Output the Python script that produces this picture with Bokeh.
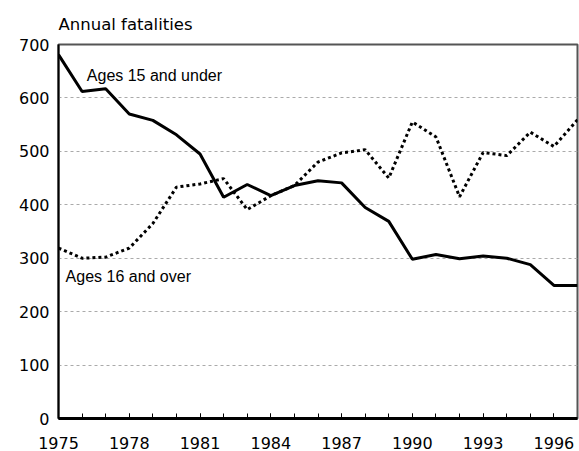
from bokeh.plotting import figure
from bokeh.models import FixedTicker, Range1d, Label
from bokeh.embed import file_html
from bokeh.resources import INLINE

# ---- data ----
years = list(range(1975, 1998))
under15 = [681, 612, 617, 570, 558, 531, 495, 414, 438, 417, 436, 445, 441,
           395, 369, 298, 307, 299, 304, 300, 288, 249, 249]
over16 = [319, 300, 302, 319, 365, 433, 439, 449, 391, 417, 436, 480, 497,
          503, 450, 555, 527, 415, 498, 492, 536, 509, 559]
x_tick_labels = [1975, 1978, 1981, 1984, 1987, 1990, 1993, 1996]
x_minor = list(range(1975, 1997))
y_ticks = [0, 100, 200, 300, 400, 500, 600, 700]
grid_values = [100, 200, 300, 400, 500, 600]

TICK_FONT = "DejaVu Sans"
LABEL_FONT = "Liberation Sans"

p = figure(width=579, height=451, output_backend="svg", toolbar_location=None,
           x_range=Range1d(1975, 1997), y_range=Range1d(0, 700),
           min_border_left=58, min_border_right=2, min_border_top=44,
           min_border_bottom=33)

p.title.text = "Annual fatalities"
p.title.align = "left"
p.title.text_font = TICK_FONT
p.title.text_font_size = "16.5px"
p.title.text_font_style = "normal"
p.title.text_color = "black"
p.title.standoff = 21

p.outline_line_color = "#555555"
p.outline_line_width = 2
p.xgrid.visible = False
p.ygrid.ticker = FixedTicker(ticks=grid_values)
p.ygrid.grid_line_color = "#aaaaaa"
p.ygrid.grid_line_dash = "3 3"
p.ygrid.grid_line_width = 1

# bottom axis
xa = p.xaxis[0]
xa.ticker = FixedTicker(ticks=x_tick_labels, minor_ticks=x_minor)
xa.axis_line_color = "black"
xa.axis_line_width = 3
xa.major_tick_in = 5
xa.major_tick_out = 0
xa.minor_tick_in = 5
xa.minor_tick_out = 0
xa.major_tick_line_color = "black"
xa.minor_tick_line_color = "black"
xa.major_tick_line_width = 1
xa.minor_tick_line_width = 1
xa.major_label_standoff = 18
xa.major_label_text_font = TICK_FONT
xa.major_label_text_font_size = "16px"
xa.major_label_text_color = "black"

# left axis
ya = p.yaxis[0]
ya.ticker = FixedTicker(ticks=y_ticks)
ya.axis_line_color = "black"
ya.axis_line_width = 2
ya.major_tick_in = 0
ya.major_tick_out = 0
ya.minor_tick_in = 0
ya.minor_tick_out = 0
ya.major_label_standoff = 9
ya.major_label_text_font = TICK_FONT
ya.major_label_text_font_size = "16px"
ya.major_label_text_color = "black"

p.line(years, under15, line_color="black", line_width=3)
p.line(years, over16, line_color="black", line_width=3, line_dash="3 3")

p.add_layout(Label(x=1976.2, y=642, text="Ages 15 and under", text_font=LABEL_FONT,
                   text_font_size="16px", text_baseline="middle", text_color="black"))
p.add_layout(Label(x=1975.3, y=266, text="Ages 16 and over", text_font=LABEL_FONT,
                   text_font_size="16px", text_baseline="middle", text_color="black"))

open("out.html", "w").write(file_html(p, INLINE))
